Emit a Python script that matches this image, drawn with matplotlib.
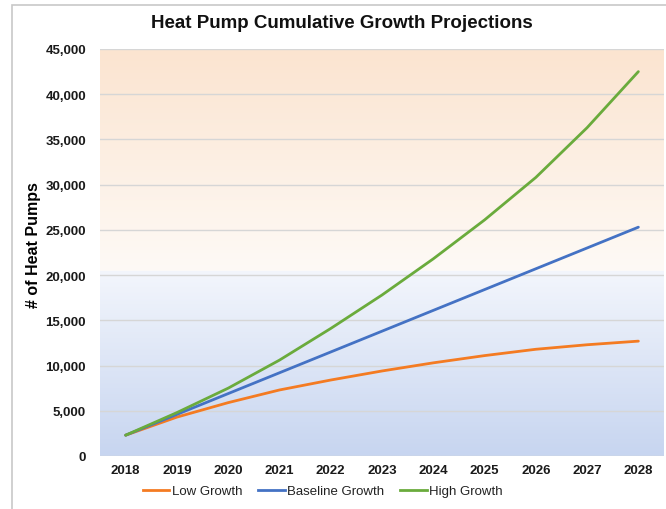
import numpy as np
import matplotlib
matplotlib.use("Agg")
import matplotlib.pyplot as plt
from matplotlib.lines import Line2D
from matplotlib.patches import Rectangle
from matplotlib.ticker import FuncFormatter, MultipleLocator

# Projection data
years = [2018, 2019, 2020, 2021, 2022, 2023, 2024, 2025, 2026, 2027, 2028]
low_growth = [2300, 4300, 5900, 7300, 8400, 9400, 10300, 11100, 11800, 12300, 12700]
baseline_growth = [2300, 4600, 6900, 9200, 11500, 13800, 16100, 18400, 20700, 23000, 25300]
high_growth = [2300, 4800, 7500, 10600, 14100, 17800, 21800, 26100, 30800, 36300, 42500]
series_names = ["Low Growth", "Baseline Growth", "High Growth"]
series_colors = ["#f47b22", "#4472c4", "#6aab3c"]

plt.rcParams["font.family"] = ["Liberation Sans Narrow", "Liberation Sans", "DejaVu Sans"]

fig = plt.figure(figsize=(6.66, 5.10), dpi=100)
fig.patch.set_facecolor("white")

# thin frame around the figure
fig.add_artist(Rectangle((12 / 666, -0.05), 1.2, 1 - 6 / 510 + 0.05,
                         transform=fig.transFigure, fill=False,
                         edgecolor="#c8c8c8", linewidth=1.2))

ax = fig.add_axes([100 / 666, 1 - 457 / 510, 564 / 666, 407 / 510])

# two-tone background gradient: peach above ~20k, pale blue below
ymax = 45000
n = 400
yy = np.linspace(0, ymax, n)
img = np.zeros((n, 2, 3))
peach_top = np.array([251, 228, 208]) / 255
peach_low = np.array([254, 250, 246]) / 255
blue_top = np.array([243, 246, 252]) / 255
blue_bot = np.array([199, 213, 240]) / 255
split = 20500
for i, v in enumerate(yy):
    if v >= split:
        t = (v - split) / (ymax - split)
        c = peach_low + (peach_top - peach_low) * t
    else:
        t = v / split
        c = blue_bot + (blue_top - blue_bot) * t
    img[i, :, :] = c
ax.imshow(img, extent=[2017.5, 2028.5, 0, ymax], origin="lower",
          aspect="auto", zorder=0, interpolation="bilinear")

for vals, name, col in zip([low_growth, baseline_growth, high_growth],
                           series_names, series_colors):
    ax.plot(years, vals, color=col, linewidth=2.0, label=name,
            solid_capstyle="round", zorder=3)

ax.set_xlim(2017.5, 2028.5)
ax.set_ylim(0, ymax)
ax.yaxis.set_major_locator(MultipleLocator(5000))
ax.set_xticks(years)
ax.yaxis.set_major_formatter(FuncFormatter(lambda v, p: f"{int(v):,}"))
ax.grid(axis="y", color="#d6d6d6", linewidth=1.0, zorder=1)
ax.set_axisbelow(False)
for s in ax.spines.values():
    s.set_visible(False)
ax.tick_params(axis="both", length=0, labelsize=9.5, colors="#1a1a1a")
ax.tick_params(axis="y", pad=10)
ax.tick_params(axis="x", pad=6)
for lab in ax.get_xticklabels() + ax.get_yticklabels():
    lab.set_fontweight("bold")

ax.set_ylabel("# of Heat Pumps", fontsize=11.5, fontweight="bold")
ax.yaxis.set_label_coords(-0.105, 0.52)

fig.text(342 / 666, 1 - 24 / 510, "Heat Pump Cumulative Growth Projections",
         ha="center", va="center", fontsize=13.5, fontweight="bold", color="#111111")

handles = [Line2D([0], [0], color=c, linewidth=2.0) for c in series_colors]
leg = fig.legend(handles, series_names, loc="center", ncol=3,
                 bbox_to_anchor=(323 / 666, 1 - 492 / 510), frameon=False,
                 fontsize=9.5, handlelength=2.0, handletextpad=0.2,
                 columnspacing=1.2)
for t in leg.get_texts():
    t.set_color("#222222")

fig.savefig("out.png", dpi=100)
